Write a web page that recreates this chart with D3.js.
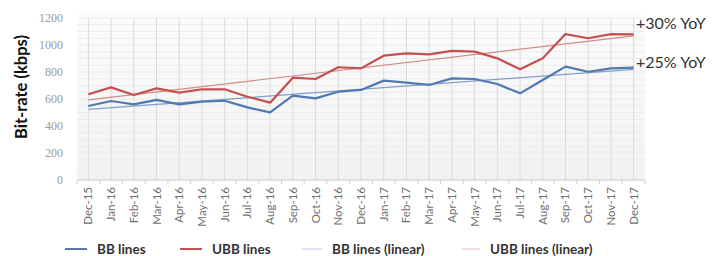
<!DOCTYPE html>
<html>
<head>
<meta charset="utf-8">
<script src="https://cdn.jsdelivr.net/npm/d3@7"></script>
<style>
  body { margin: 0; background: #fff; }
  svg { display: block; }
</style>
</head>
<body>
<svg id="chart" width="713" height="256"></svg>
<script>
var months = ["Dec-15", "Jan-16", "Feb-16", "Mar-16", "Apr-16", "May-16", "Jun-16", "Jul-16",
  "Aug-16", "Sep-16", "Oct-16", "Nov-16", "Dec-16", "Jan-17", "Feb-17", "Mar-17", "Apr-17",
  "May-17", "Jun-17", "Jul-17", "Aug-17", "Sep-17", "Oct-17", "Nov-17", "Dec-17"];

var bbLines = [548, 585, 560, 593, 560, 580, 587, 538, 501, 625, 605, 654, 667,
  736, 721, 704, 753, 748, 711, 642, 741, 840, 802, 827, 832];
var ubbLines = [635, 686, 630, 679, 647, 672, 672, 617, 573, 758, 748, 835, 827,
  921, 938, 931, 956, 951, 901, 820, 901, 1081, 1050, 1081, 1079];

// trend lines, start and end values
var bbLinear = [523, 820];
var ubbLinear = [593, 1067];

var yTicks = [0, 200, 400, 600, 800, 1000, 1200];
var notes = ["+30% YoY", "+25% YoY"];

var svg = d3.select("#chart");
var margin = { left: 77, right: 68, top: 18, bottom: 76 };
var width = 713, height = 256;

var x = d3.scalePoint().domain(months).range([margin.left, width - margin.right]).padding(0.5);
var y = d3.scaleLinear().domain([0, 1200]).range([height - margin.bottom, margin.top]);

var step = x.step();

// plot background
var defs = svg.append("defs");
var grad = defs.append("linearGradient").attr("id", "bg").attr("x1", 0).attr("x2", 0).attr("y1", 0).attr("y2", 1);
grad.append("stop").attr("offset", "0%").attr("stop-color", "#fcfcfc");
grad.append("stop").attr("offset", "100%").attr("stop-color", "#f2f2f2");

svg.append("rect")
  .attr("x", margin.left).attr("y", y(1200) - 6)
  .attr("width", width - margin.right - margin.left)
  .attr("height", y(0) - y(1200) + 6)
  .attr("fill", "url(#bg)");

// faint horizontal stripes
svg.append("g").selectAll("line")
  .data(d3.range(0, 1201, 50))
  .join("line")
  .attr("x1", margin.left).attr("x2", width - margin.right)
  .attr("y1", d => y(d)).attr("y2", d => y(d))
  .attr("stroke", "#ececec").attr("stroke-width", 1);

// vertical gridlines
svg.append("g").selectAll("line")
  .data(months)
  .join("line")
  .attr("x1", d => x(d)).attr("x2", d => x(d))
  .attr("y1", y(1200)).attr("y2", y(0))
  .attr("stroke", "#dadada").attr("stroke-width", 1);

// x axis
var xAxis = svg.append("g").attr("transform", "translate(0," + y(0) + ")");
xAxis.append("line")
  .attr("x1", margin.left).attr("x2", width - margin.right)
  .attr("stroke", "#d0d0d0");
xAxis.selectAll("line.tick")
  .data(d3.range(months.length + 1))
  .join("line").attr("class", "tick")
  .attr("x1", i => margin.left + i * step).attr("x2", i => margin.left + i * step)
  .attr("y1", 0).attr("y2", 4)
  .attr("stroke", "#d0d0d0");
xAxis.selectAll("text")
  .data(months)
  .join("text")
  .attr("transform", d => "translate(" + (x(d) + 4) + ",7) rotate(-90)")
  .attr("text-anchor", "end")
  .attr("font-family", "Lato, 'Open Sans', sans-serif")
  .attr("font-size", 11.5)
  .attr("fill", "#707070")
  .text(d => d);

// y axis labels
svg.append("g").selectAll("text")
  .data(yTicks)
  .join("text")
  .attr("x", 63).attr("y", d => y(d) + 4)
  .attr("text-anchor", "end")
  .attr("font-family", "'Liberation Serif', serif")
  .attr("font-size", 12)
  .attr("fill", "#9a9a9a")
  .text(d => d);

svg.append("text")
  .attr("transform", "translate(27,87) rotate(-90)")
  .attr("text-anchor", "middle")
  .attr("font-family", "Lato, 'Open Sans', sans-serif")
  .attr("font-weight", "bold")
  .attr("font-size", 17)
  .attr("textLength", 104)
  .attr("lengthAdjust", "spacingAndGlyphs")
  .attr("fill", "#111")
  .text("Bit-rate (kbps)");

// trend lines
var trendX = [months[0], months[months.length - 1]];
var trend = d3.line().x((d, i) => x(trendX[i])).y(d => y(d));
svg.append("path").datum(bbLinear).attr("d", trend)
  .attr("fill", "none").attr("stroke", "#7f9fcb").attr("stroke-width", 1.2);
svg.append("path").datum(ubbLinear).attr("d", trend)
  .attr("fill", "none").attr("stroke", "#d48a89").attr("stroke-width", 1.2);

// data lines
var line = d3.line().x((d, i) => x(months[i])).y(d => y(d));
svg.append("path").datum(bbLines).attr("d", line)
  .attr("fill", "none").attr("stroke", "#5179b0").attr("stroke-width", 2.2)
  .attr("stroke-linejoin", "round");
svg.append("path").datum(ubbLines).attr("d", line)
  .attr("fill", "none").attr("stroke", "#c4504f").attr("stroke-width", 2.2)
  .attr("stroke-linejoin", "round");

// annotations
svg.append("g").selectAll("text")
  .data(notes)
  .join("text")
  .attr("x", 636)
  .attr("y", (d, i) => 29 + i * 39)
  .attr("font-family", "Lato, 'Open Sans', sans-serif")
  .attr("font-size", 16)
  .attr("fill", "#333")
  .text(d => d);

// legend
var legendItems = [
  { name: "BB lines", color: "#5179b0", w: 2, x0: 65, len: 22 },
  { name: "UBB lines", color: "#c4504f", w: 2, x0: 180, len: 22 },
  { name: "BB lines (linear)", color: "#c8d3e2", w: 1.2, x0: 302, len: 20 },
  { name: "UBB lines (linear)", color: "#e7c6c6", w: 1.2, x0: 462, len: 18 }
];
var legend = svg.append("g").selectAll("g")
  .data(legendItems)
  .join("g")
  .attr("transform", d => "translate(" + d.x0 + ",249)");
legend.append("line")
  .attr("x1", 0).attr("x2", d => d.len)
  .attr("stroke", d => d.color).attr("stroke-width", d => d.w);
legend.append("text")
  .attr("x", d => d.len + 10).attr("y", 4.5)
  .attr("font-family", "Lato, 'Open Sans', sans-serif")
  .attr("font-weight", "bold")
  .attr("font-size", 13.5)
  .attr("fill", "#333")
  .text(d => d.name);
</script>
</body>
</html>
